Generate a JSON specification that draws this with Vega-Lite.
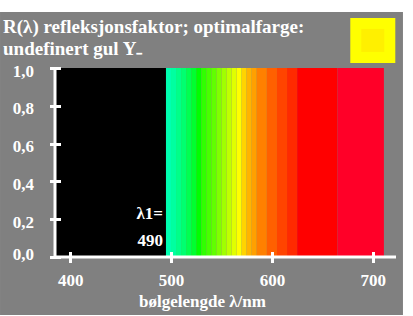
{
  "$schema": "https://vega.github.io/schema/vega-lite/v6.json",
  "width": 341,
  "height": 189,
  "autosize": "none",
  "padding": {"left": 55, "top": 68, "right": 17, "bottom": 59},
  "background": "white",
  "title": {
    "text": ["R(λ) refleksjonsfaktor; optimalfarge:", "undefinert gul Y₋"],
    "anchor": "start",
    "font": "Liberation Serif",
    "fontSize": 19,
    "fontWeight": "bold",
    "color": "white",
    "lineHeight": 22,
    "dx": 3,
    "dy": 55,
    "offset": 8
  },
  "config": {"view": {"stroke": null}},
  "data": {"values": [{}]},
  "datasets": {
    "spectrum": [
      {"lo": 385, "hi": 495, "R": 1},
      {"lo": 495, "hi": 500, "R": 1},
      {"lo": 500, "hi": 505, "R": 1},
      {"lo": 505, "hi": 510, "R": 1},
      {"lo": 510, "hi": 515, "R": 1},
      {"lo": 515, "hi": 520, "R": 1},
      {"lo": 520, "hi": 525, "R": 1},
      {"lo": 525, "hi": 530, "R": 1},
      {"lo": 530, "hi": 535, "R": 1},
      {"lo": 535, "hi": 540, "R": 1},
      {"lo": 540, "hi": 545, "R": 1},
      {"lo": 545, "hi": 550, "R": 1},
      {"lo": 550, "hi": 555, "R": 1},
      {"lo": 555, "hi": 560, "R": 1},
      {"lo": 560, "hi": 565, "R": 1},
      {"lo": 565, "hi": 570, "R": 1},
      {"lo": 570, "hi": 575, "R": 1},
      {"lo": 575, "hi": 580, "R": 1},
      {"lo": 580, "hi": 585, "R": 1},
      {"lo": 585, "hi": 595, "R": 1},
      {"lo": 595, "hi": 605, "R": 1},
      {"lo": 605, "hi": 615, "R": 1},
      {"lo": 615, "hi": 625, "R": 1},
      {"lo": 625, "hi": 665, "R": 1},
      {"lo": 665, "hi": 711, "R": 1}
    ]
  },
  "layer": [
    {
      "mark": {"type": "rect", "color": "#808080"},
      "encoding": {
        "x": {
          "datum": 330.5, "type": "quantitative",
          "scale": {"domain": [385, 723], "nice": false, "zero": false},
          "axis": {
            "values": [400, 500, 600, 700], "tickCount": 10,
            "domain": false, "grid": false,
            "tickSize": 11, "tickWidth": 3, "tickColor": "white",
            "offset": -5.5,
            "labelFont": "Liberation Serif", "labelFontSize": 17, "labelFontWeight": "bold",
            "labelColor": "white", "labelPadding": 10,
            "labelOverlap": false, "labelBound": false, "labelFlush": false,
            "title": "bølgelengde λ/nm",
            "titleFont": "Liberation Serif", "titleFontSize": 17, "titleFontWeight": "bold",
            "titleColor": "white",
            "titleX": 147, "titleY": 55, "titleAlign": "center", "titleBaseline": "alphabetic",
            "zindex": 1
          }
        },
        "x2": {"datum": 729.9},
        "y": {
          "datum": 1.2963, "type": "quantitative",
          "scale": {"domain": [0, 1], "nice": false},
          "axis": {
            "values": [0, 0.2, 0.4, 0.6, 0.8, 1], "tickCount": 10,
            "domain": false, "grid": false,
            "tickSize": 11, "tickWidth": 3, "tickColor": "white",
            "offset": -5.5,
            "labelExpr": "replace(format(datum.value, '.1f'), '.', ',')",
            "labelFont": "Liberation Serif", "labelFontSize": 17, "labelFontWeight": "bold",
            "labelColor": "white", "labelPadding": 16,
            "labelOffset": {"condition": {"test": "datum.value < 0.1", "value": -3}, "value": 3},
            "labelOverlap": false, "labelBound": false, "labelFlush": false,
            "title": null,
            "zindex": 1
          }
        },
        "y2": {"datum": -0.307}
      }
    },
    {
      "data": {"name": "spectrum"},
      "mark": {"type": "rect", "strokeWidth": 0},
      "encoding": {
        "x": {
          "field": "lo", "type": "quantitative",
          "scale": {"domain": [385, 723], "nice": false, "zero": false},
          "axis": {
            "values": [400, 500, 600, 700], "tickCount": 10,
            "domain": false, "grid": false,
            "tickSize": 11, "tickWidth": 3, "tickColor": "white",
            "offset": -5.5,
            "labelFont": "Liberation Serif", "labelFontSize": 17, "labelFontWeight": "bold",
            "labelColor": "white", "labelPadding": 10,
            "labelOverlap": false, "labelBound": false, "labelFlush": false,
            "title": "bølgelengde λ/nm",
            "titleFont": "Liberation Serif", "titleFontSize": 17, "titleFontWeight": "bold",
            "titleColor": "white",
            "titleX": 147, "titleY": 55, "titleAlign": "center", "titleBaseline": "alphabetic",
            "zindex": 1
          }
        },
        "x2": {"field": "hi"},
        "y": {
          "field": "R", "type": "quantitative",
          "scale": {"domain": [0, 1], "nice": false},
          "axis": {
            "values": [0, 0.2, 0.4, 0.6, 0.8, 1], "tickCount": 10,
            "domain": false, "grid": false,
            "tickSize": 11, "tickWidth": 3, "tickColor": "white",
            "offset": -5.5,
            "labelExpr": "replace(format(datum.value, '.1f'), '.', ',')",
            "labelFont": "Liberation Serif", "labelFontSize": 17, "labelFontWeight": "bold",
            "labelColor": "white", "labelPadding": 16,
            "labelOffset": {"condition": {"test": "datum.value < 0.1", "value": -3}, "value": 3},
            "labelOverlap": false, "labelBound": false, "labelFlush": false,
            "title": null,
            "zindex": 1
          }
        },
        "y2": {"datum": 0},
        "color": {
          "field": "lo", "type": "nominal", "legend": null,
          "scale": {
            "domain": [385, 495, 500, 505, 510, 515, 520, 525, 530, 535, 540, 545, 550, 555, 560, 565, 570, 575, 580, 585, 595, 605, 615, 625, 665],
            "range": ["#000000", "#00ffb0", "#00ffa0", "#00ff88", "#00ff70", "#00ff50", "#00ff30", "#00ff00", "#30ff00", "#48ff00", "#60ff00", "#80ff00", "#a0ff00", "#c0ff00", "#e0ff00", "#ffff00", "#ffd400", "#ffb400", "#ffa000", "#ff8000", "#ff6000", "#ff4400", "#ff2a00", "#ff0000", "#ff0028"]
          }
        }
      }
    },
    {
      "data": {"values": [{}]},
      "mark": {"type": "rule", "color": "white", "strokeWidth": 3},
      "encoding": {"y": {"datum": 0, "type": "quantitative"}}
    },
    {
      "data": {"values": [{}]},
      "mark": {"type": "rule", "color": "white", "strokeWidth": 3},
      "encoding": {"x": {"datum": 385, "type": "quantitative"}}
    },
    {
      "data": {"values": [{}]},
      "mark": {"type": "text", "color": "white", "font": "Liberation Serif", "fontSize": 17, "fontWeight": "bold", "align": "right", "baseline": "alphabetic"},
      "encoding": {
        "x": {"datum": 492, "type": "quantitative"},
        "y": {"datum": 0.2, "type": "quantitative"},
        "text": {"value": "λ1="}
      }
    },
    {
      "data": {"values": [{}]},
      "mark": {"type": "text", "color": "white", "font": "Liberation Serif", "fontSize": 17, "fontWeight": "bold", "align": "right", "baseline": "alphabetic"},
      "encoding": {
        "x": {"datum": 492, "type": "quantitative"},
        "y": {"datum": 0.058, "type": "quantitative"},
        "text": {"value": "490"}
      }
    },
    {
      "data": {"values": [{}]},
      "mark": {"type": "point", "shape": "square", "filled": true, "color": "#ffff00", "size": 2025, "opacity": 1, "strokeWidth": 0},
      "encoding": {
        "x": {"datum": 700, "type": "quantitative"},
        "y": {"datum": 1.146, "type": "quantitative"}
      }
    },
    {
      "data": {"values": [{}]},
      "mark": {"type": "point", "shape": "square", "filled": true, "color": "#fff000", "size": 529, "opacity": 1, "strokeWidth": 0},
      "encoding": {
        "x": {"datum": 700, "type": "quantitative"},
        "y": {"datum": 1.146, "type": "quantitative"}
      }
    }
  ]
}
